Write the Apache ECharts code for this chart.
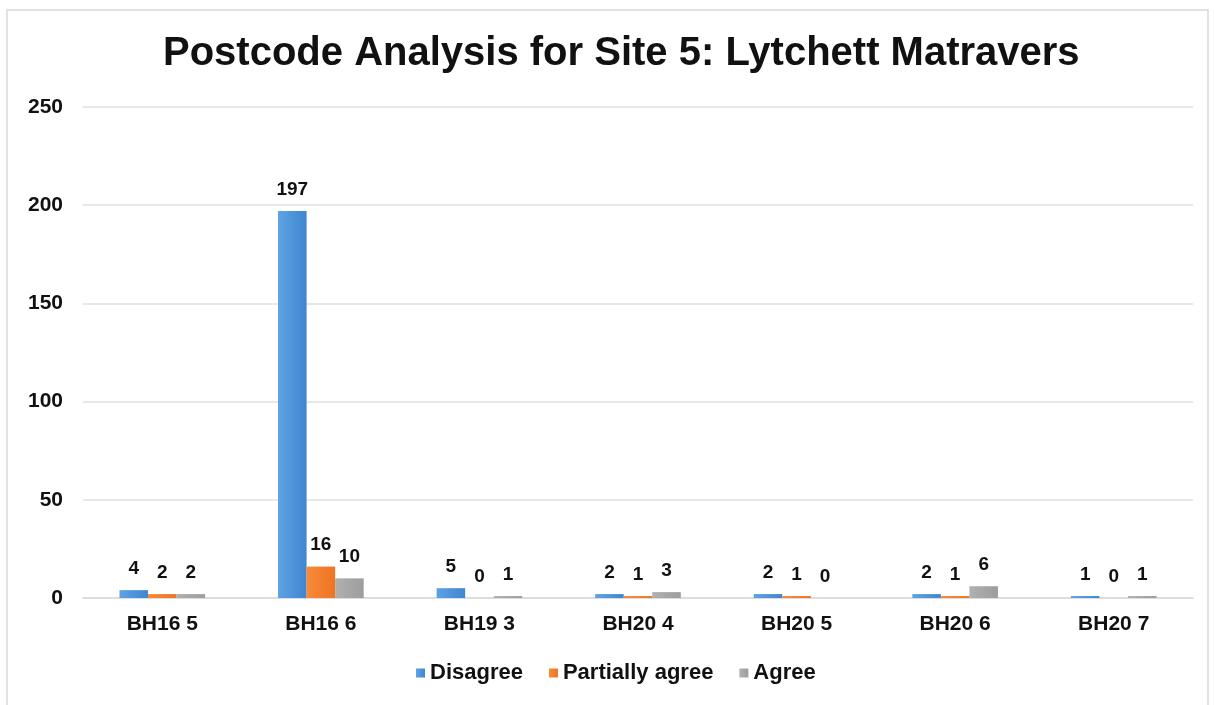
<!DOCTYPE html>
<html>
<head>
<meta charset="utf-8">
<script src="https://cdn.jsdelivr.net/npm/echarts@6/dist/echarts.min.js"></script>
<style>
  body { margin: 0; background: #fff; }
  #main { width: 1215px; height: 705px; }
</style>
</head>
<body>
<div id="main"></div>
<script>
// 数据
const postcodes = ['BH16 5', 'BH16 6', 'BH19 3', 'BH20 4', 'BH20 5', 'BH20 6', 'BH20 7'];
const disagree = [4, 197, 5, 2, 2, 2, 1];
const partiallyAgree = [2, 16, 0, 1, 1, 1, 0];
const agree = [2, 10, 1, 3, 0, 6, 1];
const yTicks = [0, 50, 100, 150, 200, 250];

const fontFamily = '"Liberation Sans", Arial, sans-serif';

// 横向渐变，模仿 Excel 的柱子
function grad(c1, c2) {
  return new echarts.graphic.LinearGradient(0, 0, 1, 0, [
    { offset: 0, color: c1 },
    { offset: 1, color: c2 }
  ]);
}

function makeSeries(name, data, color) {
  return {
    name,
    type: 'bar',
    data,
    barGap: '0%',
    barCategoryGap: '46%',
    itemStyle: { color: color },
    label: {
      show: true,
      position: 'top',
      distance: 12,
      color: '#111',
      fontSize: 19,
      fontWeight: 'bold',
      fontFamily
    }
  };
}

let myChart = echarts.init(document.getElementById('main'));
let option = {
  animation: false,
  backgroundColor: '#fff',
  color: ['#4a8fd8', '#f07a2a', '#a5a5a5'],
  graphic: [
    {
      type: 'rect',
      shape: { x: 7, y: 10, width: 1201, height: 720 },
      style: { fill: 'none', stroke: '#d9d9d9', lineWidth: 1.5 },
      silent: true
    }
  ],
  title: {
    text: 'Postcode Analysis for Site 5: Lytchett Matravers',
    left: 158,
    top: 29,
    textStyle: {
      fontSize: 40,
      fontWeight: 'bold',
      color: '#111',
      fontFamily
    }
  },
  legend: {
    bottom: 16,
    left: 411,
    icon: 'rect',
    itemWidth: 9,
    itemHeight: 9,
    itemGap: 26,
    textStyle: { fontSize: 22, fontWeight: 'bold', color: '#111', fontFamily }
  },
  grid: {
    left: 83,
    right: 22,
    top: 107,
    bottom: 107,
    containLabel: false
  },
  xAxis: {
    type: 'category',
    data: postcodes,
    axisLine: { lineStyle: { color: '#d9d9d9', width: 1.5 } },
    axisTick: { show: false },
    axisLabel: {
      margin: 16,
      fontSize: 21,
      fontWeight: 'bold',
      color: '#111',
      fontFamily
    }
  },
  yAxis: {
    type: 'value',
    min: yTicks[0],
    max: yTicks[yTicks.length - 1],
    interval: 50,
    axisLine: { show: false },
    axisTick: { show: false },
    splitLine: { lineStyle: { color: '#e0e0e0', width: 1.5 } },
    axisLabel: {
      margin: 20,
      fontSize: 21,
      fontWeight: 'bold',
      color: '#111',
      fontFamily
    }
  },
  series: [
    makeSeries('Disagree', disagree, grad('#5ea3e4', '#3f86d0')),
    makeSeries('Partially agree', partiallyAgree, grad('#f98a3a', '#ee7422')),
    makeSeries('Agree', agree, grad('#b0b0b0', '#9d9d9d'))
  ]
};
myChart.setOption(option);
</script>
</body>
</html>
